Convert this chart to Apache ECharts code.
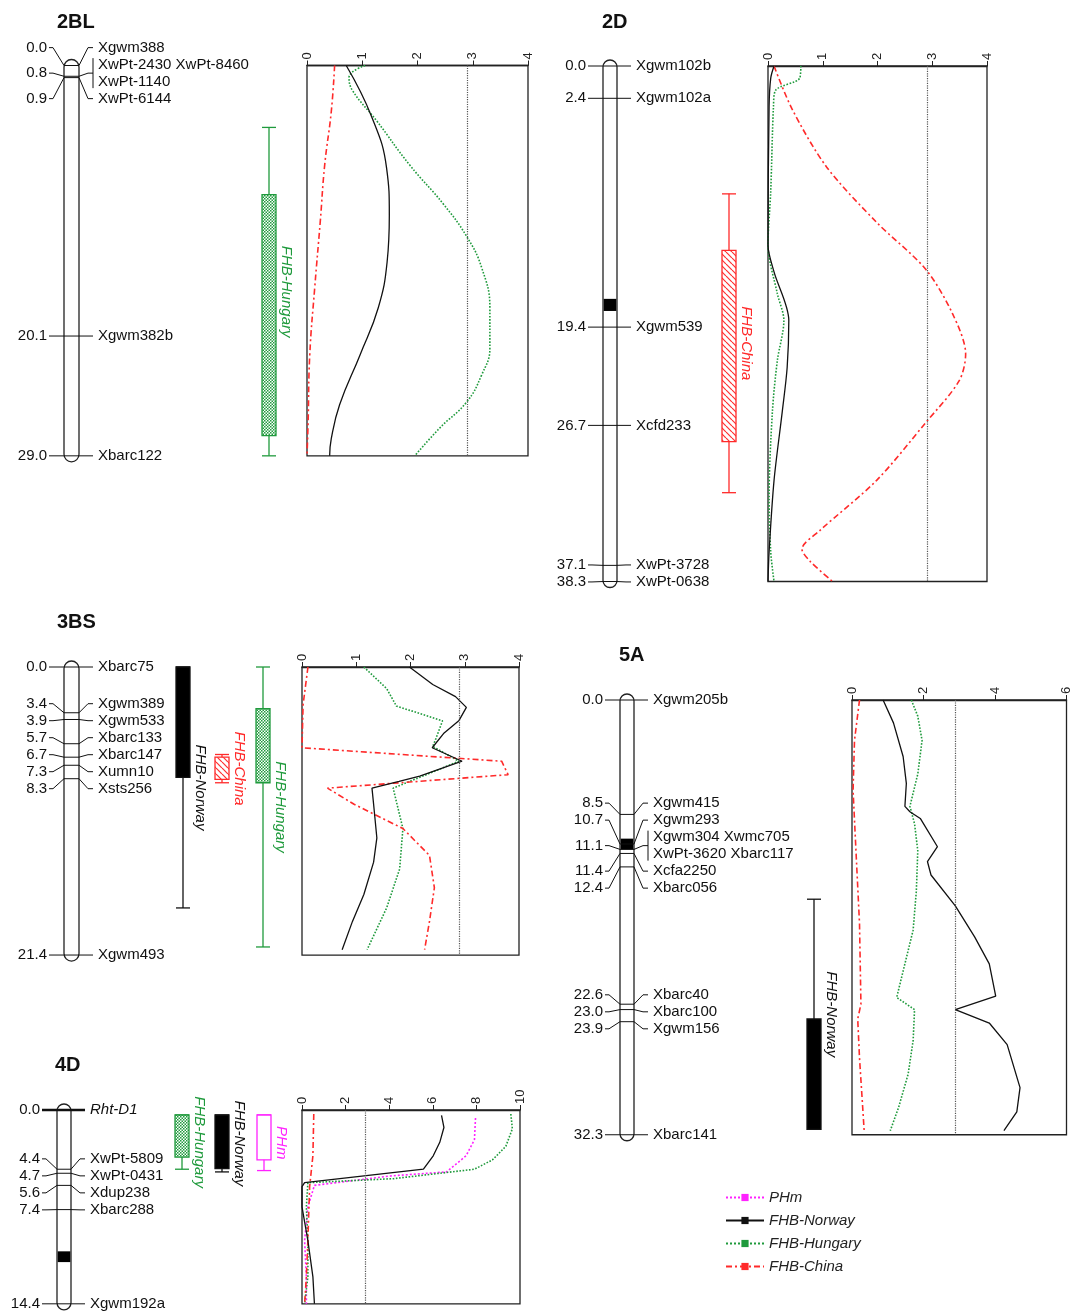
<!DOCTYPE html>
<html>
<head>
<meta charset="utf-8">
<script src="https://cdn.jsdelivr.net/npm/echarts@6/dist/echarts.min.js"></script>
<style>
html, body { margin: 0; background: #fff; }
#main { width: 1073px; height: 1314px; }
</style>
</head>
<body>
<div id="main"></div>
<script>
var myChart = echarts.init(document.getElementById('main'));

// ---- data: linkage maps (cM), QTL intervals, LOD profiles [cM, LOD] ----
var lodThreshold = 2.9;

// 2BL
var len2BL = 29.0;
var markers2BL = [[0.0, ['Xgwm388']], [0.8, ['XwPt-2430 XwPt-8460', 'XwPt-1140']], [0.9, ['XwPt-6144']], [20.1, ['Xgwm382b']], [29.0, ['Xbarc122']]];
var qtl2BL = [['FHB-Hungary', 4.6, 9.6, 27.5, 29.0]];
var norway2BL = [[0, 0.71], [3.8, 1.17], [7.6, 1.44], [11.1, 1.49], [14.6, 1.45], [18.0, 1.29], [21.5, 0.96], [25.2, 0.59], [27.7, 0.44], [29.0, 0.41]];
var hungary2BL = [[0, 1.05], [0.9, 0.76], [1.9, 0.83], [4.1, 1.26], [7.4, 1.86], [10.3, 2.47], [12.7, 2.89], [15.0, 3.16], [18.0, 3.31], [21.0, 3.31], [23.0, 3.16], [25.0, 2.89], [26.9, 2.41], [29.0, 1.95]];
var china2BL = [[0, 0.50], [3.4, 0.44], [7.4, 0.32], [11.6, 0.24], [16.5, 0.14], [21.5, 0.05], [26.5, 0.02], [29.0, 0.0]];

// 2D
var len2D = 38.3;
var markers2D = [[0.0, ['Xgwm102b']], [2.4, ['Xgwm102a']], [19.4, ['Xgwm539']], [26.7, ['Xcfd233']], [37.1, ['XwPt-3728']], [38.3, ['XwPt-0638']]];
var band2D = [17.3, 18.2];
var qtl2D = [['FHB-China', 9.5, 13.7, 27.9, 31.7]];
var norway2D = [[0, 0.11], [0.9, 0.05], [3.0, 0.02], [13.3, 0.0], [15.3, 0.11], [18.9, 0.38], [22.4, 0.35], [25.7, 0.26], [30.8, 0.11], [36.1, 0.02], [38.3, 0.0]];
var hungary2D = [[0, 0.60], [0.9, 0.58], [1.8, 0.14], [3.0, 0.10], [9.3, 0.05], [13.3, 0.0], [16.9, 0.17], [18.9, 0.29], [21.9, 0.17], [25.7, 0.08], [32.0, 0.02], [36.1, 0.05], [38.3, 0.11]];
var china2D = [[0, 0.11], [3.2, 0.44], [7.5, 1.07], [11.6, 1.98], [15.1, 2.88], [18.4, 3.37], [21.4, 3.61], [23.4, 3.49], [26.5, 2.88], [30.8, 1.98], [34.5, 0.95], [35.9, 0.62], [36.8, 0.77], [38.3, 1.18]];

// 3BS
var len3BS = 21.4;
var markers3BS = [[0.0, ['Xbarc75']], [3.4, ['Xgwm389']], [3.9, ['Xgwm533']], [5.7, ['Xbarc133']], [6.7, ['Xbarc147']], [7.3, ['Xumn10']], [8.3, ['Xsts256']], [21.4, ['Xgwm493']]];
var qtl3BS = [['FHB-Norway', 0.0, 0.0, 8.2, 17.9], ['FHB-China', 6.5, 6.7, 8.35, 8.6], ['FHB-Hungary', 0.0, 3.1, 8.6, 20.8]];
var norway3BS = [[0, 1.98], [1.3, 2.41], [2.2, 2.83], [3.0, 3.03], [4.0, 2.89], [4.9, 2.62], [6.0, 2.40], [7.0, 2.95], [8.1, 2.17], [8.5, 1.79], [9.0, 1.29], [10.2, 1.32], [12.7, 1.38], [14.5, 1.32], [16.9, 1.14], [18.9, 0.93], [21.0, 0.74]];
var hungary3BS = [[0, 1.14], [1.6, 1.56], [2.9, 1.74], [4.0, 2.59], [5.3, 2.47], [5.9, 2.41], [7.0, 2.89], [8.0, 2.29], [9.0, 1.68], [12.0, 1.86], [15.0, 1.80], [17.9, 1.56], [21.0, 1.20]];
var china3BS = [[0, 0.11], [2.8, 0.02], [6.0, 0.0], [7.0, 3.68], [8.0, 3.80], [9.0, 0.47], [10.2, 0.96], [12.0, 1.86], [14.0, 2.35], [16.4, 2.44], [18.9, 2.35], [21.0, 2.26]];

// 5A
var len5A = 32.3;
var markers5A = [[0.0, ['Xgwm205b']], [8.5, ['Xgwm415']], [10.7, ['Xgwm293']], [11.1, ['Xgwm304 Xwmc705', 'XwPt-3620 Xbarc117']], [11.4, ['Xcfa2250']], [12.4, ['Xbarc056']], [22.6, ['Xbarc40']], [23.0, ['Xbarc100']], [23.9, ['Xgwm156']], [32.3, ['Xbarc141']]];
var band5A = [10.3, 11.1];
var qtl5A = [['FHB-Norway', 14.8, 23.7, 31.9, 31.9]];
var norway5A = [[0, 0.87], [1.7, 1.16], [4.2, 1.43], [6.2, 1.52], [7.9, 1.48], [8.3, 1.62], [8.8, 1.91], [10.9, 2.39], [12.0, 2.11], [13.0, 2.21], [15.3, 2.89], [17.6, 3.43], [19.6, 3.84], [22.0, 4.02], [23.0, 2.89], [24.0, 3.84], [25.6, 4.34], [28.8, 4.70], [30.6, 4.61], [32.0, 4.25]];
var hungary5A = [[0, 1.66], [1.2, 1.84], [3.0, 1.96], [5.5, 1.84], [7.9, 1.62], [9.2, 1.75], [11.2, 1.84], [14.2, 1.80], [17.1, 1.71], [19.6, 1.48], [22.1, 1.25], [23.0, 1.75], [25.3, 1.71], [27.8, 1.57], [30.3, 1.30], [32.0, 1.07]];
var china5A = [[0, 0.21], [3.0, 0.07], [6.7, 0.03], [11.7, 0.12], [16.6, 0.21], [22.6, 0.25], [23.7, 0.16], [26.6, 0.21], [30.3, 0.30], [32.0, 0.34]];

// 4D
var len4D = 14.4;
var markers4D = [[0.0, ['Rht-D1']], [4.4, ['XwPt-5809']], [4.7, ['XwPt-0431']], [5.6, ['Xdup238']], [7.4, ['Xbarc288']], [14.4, ['Xgwm192a']]];
var genes4D = ['Rht-D1'];
var band4D = [10.5, 11.3];
var qtl4D = [['FHB-Hungary', 0.37, 0.37, 3.5, 4.4], ['FHB-Norway', 0.37, 0.37, 4.35, 4.6], ['PHm', 0.37, 0.37, 3.7, 4.5]];
var norway4D = [[0.4, 6.40], [1.3, 6.51], [2.4, 6.32], [3.4, 6.02], [4.4, 5.57], [5.4, 0.12], [5.7, 0.0], [7.2, 0.0], [9.7, 0.27], [12.4, 0.50], [14.4, 0.57]];
var phm4D = [[0.6, 7.96], [2.2, 7.91], [3.4, 7.53], [4.6, 6.63], [4.9, 4.05], [5.6, 0.57], [7.2, 0.27], [9.7, 0.12], [12.4, 0.20], [14.4, 0.20]];
var hungary4D = [[0.3, 9.58], [1.4, 9.65], [2.7, 9.35], [3.7, 8.74], [4.4, 7.91], [5.1, 4.21], [5.4, 0.27], [7.2, 0.20], [9.7, 0.27], [12.4, 0.27], [14.4, 0.12]];
var china4D = [[0.3, 0.54], [3.4, 0.50], [5.7, 0.35], [9.7, 0.27], [12.4, 0.20], [14.4, 0.12]];

var legendNames = ['PHm', 'FHB-Norway', 'FHB-Hungary', 'FHB-China'];

// ---- styles / layout ----
var FONT = "'Liberation Sans', Arial, Helvetica, sans-serif";
var CM_PX = 13.46;   // pixels per cM, same for every map
var GAP = 17;        // spacing of marker labels

function makePattern(draw) {
    var c = document.createElement('canvas');
    c.width = 6; c.height = 6;
    draw(c.getContext('2d'));
    return { image: c, repeat: 'repeat' };
}
var checker = makePattern(function (g) {
    g.fillStyle = '#fff'; g.fillRect(0, 0, 6, 6);
    g.fillStyle = '#1f9a3c';
    g.fillRect(0, 0, 1.5, 1.5); g.fillRect(3, 0, 1.5, 1.5);
    g.fillRect(1.5, 1.5, 1.5, 1.5); g.fillRect(4.5, 1.5, 1.5, 1.5);
    g.fillRect(0, 3, 1.5, 1.5); g.fillRect(3, 3, 1.5, 1.5);
    g.fillRect(1.5, 4.5, 1.5, 1.5); g.fillRect(4.5, 4.5, 1.5, 1.5);
});
var hatch = makePattern(function (g) {
    g.fillStyle = '#fff'; g.fillRect(0, 0, 6, 6);
    g.strokeStyle = '#ff3030'; g.lineWidth = 1.2;
    [-6, 0, 6].forEach(function (k) { g.beginPath(); g.moveTo(k, 0); g.lineTo(k + 6, 6); g.stroke(); });
});

var trait = {
    'PHm':         { color: '#ff22ff', fill: '#fff',  line: [2, 2] },
    'FHB-Norway':  { color: '#111111', fill: '#000',  line: 'solid' },
    'FHB-Hungary': { color: '#1f9a3c', fill: checker, line: 'dotted' },
    'FHB-China':   { color: '#ff2a2a', fill: hatch,   line: [6, 3, 2, 3] }
};

var panels = [
    { title: '2BL', tx: 52, ty: 7, len: len2BL, markers: markers2BL, qtl: qtl2BL, smooth: 0.45,
      chrom: [64, 65.5, 15], lod: [307, 221, 4, 1], qtlX: { 'FHB-Hungary': 269 },
      curves: { 'FHB-Norway': norway2BL, 'FHB-Hungary': hungary2BL, 'FHB-China': china2BL } },
    { title: '2D', tx: 597, ty: 7, len: len2D, markers: markers2D, qtl: qtl2D, band: band2D, smooth: 0.3,
      chrom: [603, 66, 14], lod: [768, 219, 4, 1], qtlX: { 'FHB-China': 729 },
      curves: { 'FHB-Norway': norway2D, 'FHB-Hungary': hungary2D, 'FHB-China': china2D } },
    { title: '3BS', tx: 52, ty: 607, len: len3BS, markers: markers3BS, qtl: qtl3BS, smooth: 0,
      chrom: [64, 667, 15], lod: [302, 217, 4, 1], qtlX: { 'FHB-Norway': 183, 'FHB-China': 222, 'FHB-Hungary': 263 },
      curves: { 'FHB-Norway': norway3BS, 'FHB-Hungary': hungary3BS, 'FHB-China': china3BS } },
    { title: '5A', tx: 614, ty: 640, len: len5A, markers: markers5A, qtl: qtl5A, band: band5A, smooth: 0,
      chrom: [620, 700, 14], lod: [852, 220, 6, 2], qtlX: { 'FHB-Norway': 814 },
      curves: { 'FHB-Norway': norway5A, 'FHB-Hungary': hungary5A, 'FHB-China': china5A } },
    { title: '4D', tx: 50, ty: 1050, len: len4D, markers: markers4D, qtl: qtl4D, band: band4D, genes: genes4D, smooth: 0,
      chrom: [57, 1110, 14], lod: [302, 218, 10, 2], qtlX: { 'FHB-Hungary': 182, 'FHB-Norway': 222, 'PHm': 264 },
      curves: { 'PHm': phm4D, 'FHB-Norway': norway4D, 'FHB-Hungary': hungary4D, 'FHB-China': china4D } }
];

// push overlapping marker labels apart, keeping each cluster centred
function spread(items) {
    var blocks = items.map(function (it) { return { items: [it], top: it.want - it.h / 2, h: it.h }; });
    var moved = true;
    while (moved) {
        moved = false;
        for (var i = 1; i < blocks.length; i++) {
            var a = blocks[i - 1], b = blocks[i];
            if (b.top < a.top + a.h - 0.01) {
                var all = a.items.concat(b.items), acc = 0, sum = 0;
                all.forEach(function (it) { sum += it.want - (acc + it.h / 2); acc += it.h; });
                blocks.splice(i - 1, 2, { items: all, top: sum / all.length, h: acc });
                moved = true;
                break;
            }
        }
    }
    blocks.forEach(function (bl) {
        var acc = 0;
        bl.items.forEach(function (it) { it.cy = bl.top + acc + it.h / 2; acc += it.h; });
    });
    return items;
}

function chromRender(p) {
    return function (params, api) {
        var cs = params.coordSys;
        var L = cs.x, R = cs.x + cs.width;
        function yOf(v) { return api.coord([0, v])[1]; }
        var kids = [];
        kids.push({ type: 'rect', shape: { x: L, y: yOf(0) - 6, width: R - L, height: yOf(p.len) - yOf(0) + 12, r: (R - L) / 2 },
            style: { fill: '#fff', stroke: '#222', lineWidth: 1.3 } });
        if (p.band) {
            kids.push({ type: 'rect', shape: { x: L + 0.7, y: yOf(p.band[0]), width: R - L - 1.4, height: yOf(p.band[1]) - yOf(p.band[0]) },
                style: { fill: '#000' } });
        }
        var items = spread(p.markers.map(function (m) {
            return { pos: m[0], names: m[1], want: yOf(m[0]), h: m[1].length * GAP };
        }));
        items.forEach(function (it) {
            var gene = p.genes && p.genes.indexOf(it.names[0]) >= 0;
            kids.push({ type: 'polyline',
                shape: { points: [[L - 15, it.cy], [L - 11, it.cy], [L, it.want], [R, it.want], [R + 9, it.cy], [R + 14, it.cy]] },
                style: { stroke: '#111', lineWidth: gene ? 2.4 : 1, fill: 'none' } });
            kids.push({ type: 'text', x: L - 17, y: it.cy,
                style: { text: it.pos.toFixed(1), align: 'right', verticalAlign: 'middle', font: '15px ' + FONT, fill: '#111' } });
            var n = it.names.length;
            it.names.forEach(function (nm, j) {
                kids.push({ type: 'text', x: R + 19, y: it.cy + (j - (n - 1) / 2) * GAP,
                    style: { text: nm, align: 'left', verticalAlign: 'middle', font: (gene ? 'italic ' : '') + '15px ' + FONT, fill: '#111' } });
            });
            if (n > 1) {
                kids.push({ type: 'line', shape: { x1: R + 14, y1: it.cy - n * GAP / 2 + 2, x2: R + 14, y2: it.cy + n * GAP / 2 - 2 },
                    style: { stroke: '#111', lineWidth: 1 } });
            }
        });
        return { type: 'group', children: kids };
    };
}

function qtlRender(p) {
    return function (params, api) {
        var kids = [];
        var hw = 7;
        p.qtl.forEach(function (q) {
            var st = trait[q[0]];
            var cx = p.qtlX[q[0]];
            var y = q.slice(1).map(function (v) { return api.coord([0, v])[1]; });
            kids.push({ type: 'line', shape: { x1: cx, y1: y[0], x2: cx, y2: y[3] }, style: { stroke: st.color, lineWidth: 1.3 } });
            kids.push({ type: 'line', shape: { x1: cx - hw, y1: y[0], x2: cx + hw, y2: y[0] }, style: { stroke: st.color, lineWidth: 1.3 } });
            kids.push({ type: 'line', shape: { x1: cx - hw, y1: y[3], x2: cx + hw, y2: y[3] }, style: { stroke: st.color, lineWidth: 1.3 } });
            kids.push({ type: 'rect', shape: { x: cx - hw, y: y[1], width: hw * 2, height: y[2] - y[1] },
                style: { fill: st.fill, stroke: st.color, lineWidth: 1.3 } });
            kids.push({ type: 'text', x: cx + hw + 3, y: (y[0] + y[3]) / 2, rotation: -Math.PI / 2,
                style: { text: q[0], align: 'center', verticalAlign: 'bottom', font: 'italic 15px ' + FONT, fill: st.color } });
        });
        return { type: 'group', children: kids };
    };
}

var grids = [], xAxes = [], yAxes = [], series = [], titles = [];
panels.forEach(function (p, k) {
    var h = p.len * CM_PX;
    titles.push({ text: p.title, left: p.tx, top: p.ty, textStyle: { fontSize: 20, fontWeight: 'bold', color: '#111', fontFamily: FONT } });

    // map grid (chromosome + QTL bars)
    grids.push({ left: p.chrom[0], top: p.chrom[1], width: p.chrom[2], height: h, show: false });
    xAxes.push({ gridIndex: 2 * k, type: 'value', min: 0, max: 1, show: false });
    yAxes.push({ gridIndex: 2 * k, type: 'value', min: 0, max: p.len, inverse: true, show: false });
    series.push({ type: 'custom', name: 'map' + p.title, xAxisIndex: 2 * k, yAxisIndex: 2 * k, clip: false, silent: true,
        data: [[0, 0]], renderItem: chromRender(p) });
    series.push({ type: 'custom', name: 'qtl' + p.title, xAxisIndex: 2 * k, yAxisIndex: 2 * k, clip: false, silent: true,
        data: [[0, 0]], renderItem: qtlRender(p) });

    // LOD grid
    grids.push({ left: p.lod[0], top: p.chrom[1], width: p.lod[1], height: h, show: true, borderColor: '#222', borderWidth: 1.3, backgroundColor: 'transparent' });
    xAxes.push({ gridIndex: 2 * k + 1, type: 'value', position: 'top', min: 0, max: p.lod[2], interval: p.lod[3],
        axisLine: { show: true, onZero: false, lineStyle: { color: '#222', width: 1.3 } },
        axisTick: { show: true, inside: false, length: 5, lineStyle: { color: '#222' } },
        axisLabel: { rotate: -90, margin: 6, fontSize: 13, color: '#222', fontFamily: FONT },
        splitLine: { show: false } });
    yAxes.push({ gridIndex: 2 * k + 1, type: 'value', min: 0, max: p.len, inverse: true, show: false });

    var first = true;
    Object.keys(p.curves).forEach(function (name) {
        var st = trait[name];
        var s = {
            type: 'line', name: name, xAxisIndex: 2 * k + 1, yAxisIndex: 2 * k + 1,
            data: p.curves[name].map(function (d) { return [d[1], d[0]]; }),
            smooth: p.smooth, showSymbol: false, symbol: 'rect', symbolSize: 9,
            lineStyle: { color: st.color, width: name === 'FHB-Norway' ? 1.3 : 1.6, type: st.line },
            itemStyle: { color: st.color },
            silent: true, z: name === 'FHB-Norway' ? 4 : 3
        };
        if (first) {
            s.markLine = { silent: true, symbol: 'none', label: { show: false },
                lineStyle: { color: '#555', type: 'dotted', width: 1.2 }, data: [{ xAxis: lodThreshold }] };
            first = false;
        }
        series.push(s);
    });
});

myChart.setOption({
    animation: false,
    backgroundColor: '#fff',
    title: titles,
    legend: {
        data: legendNames, orient: 'vertical', left: 720, top: 1185,
        itemWidth: 38, itemHeight: 9, itemGap: 8,
        textStyle: { fontStyle: 'italic', fontSize: 15, color: '#222', fontFamily: FONT }
    },
    grid: grids,
    xAxis: xAxes,
    yAxis: yAxes,
    series: series
});
</script>
</body>
</html>
